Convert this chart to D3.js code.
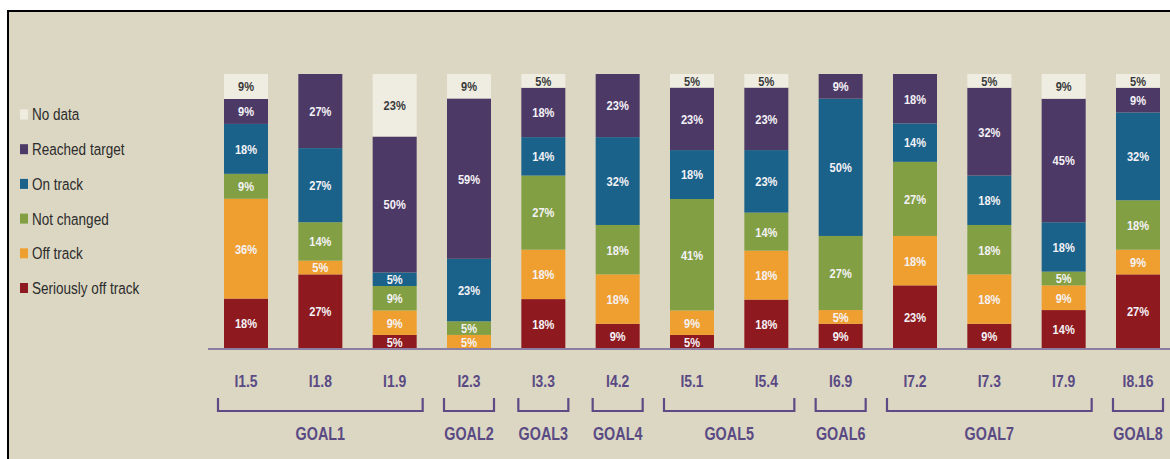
<!DOCTYPE html>
<html>
<head>
<meta charset="utf-8">
<script src="https://cdn.jsdelivr.net/npm/d3@7"></script>
<style>
  html, body { margin: 0; padding: 0; background: #ffffff; }
  svg { display: block; }
</style>
</head>
<body>
<svg id="chart" width="1170" height="459"></svg>
<script>
// ---- data ----
const categories = ["I1.5","I1.8","I1.9","I2.3","I3.3","I4.2","I5.1","I5.4","I6.9","I7.2","I7.3","I7.9","I8.16"];
const seriesNames = ["Seriously off track","Off track","Not changed","On track","Reached target","No data"];
const seriouslyOffTrack = [18,27, 5, 0,18, 9, 5,18, 9,23, 9,14,27];
const offTrack          = [36, 5, 9, 5,18,18, 9,18, 5,18,18, 9, 9];
const notChanged        = [ 9,14, 9, 5,27,18,41,14,27,27,18, 5,18];
const onTrack           = [18,27, 5,23,14,32,18,23,50,14,18,18,32];
const reachedTarget     = [ 9,27,50,59,18,23,23,23, 9,18,32,45, 9];
const noData            = [ 9, 0,23, 9, 5, 0, 5, 5, 0, 0, 5, 9, 5];
const goalNames  = ["GOAL1","GOAL2","GOAL3","GOAL4","GOAL5","GOAL6","GOAL7","GOAL8"];
const goalFirst  = ["I1.5","I2.3","I3.3","I4.2","I5.1","I6.9","I7.2","I8.16"];
const goalLast   = ["I1.9","I2.3","I3.3","I4.2","I5.4","I6.9","I7.9","I8.16"];
const legendOrder = ["No data","Reached target","On track","Not changed","Off track","Seriously off track"];

// ---- styles ----
const colors = {
  "Seriously off track": "#8E191E",
  "Off track": "#EF9F2F",
  "Not changed": "#82A043",
  "On track": "#1A628A",
  "Reached target": "#4D3966",
  "No data": "#EFEDE2"
};
const bg = "#DCD7C3";
const purpleText = "#5A4A84";
const fontFam = "'Liberation Sans', Arial, sans-serif";
const squeeze = 0.82;

const svg = d3.select("#chart");
// frame
svg.append("rect").attr("x", 0).attr("y", 0).attr("width", 1170).attr("height", 459).attr("fill", "#ffffff");
svg.append("rect").attr("x", 8).attr("y", 11).attr("width", 1162).attr("height", 448).attr("fill", bg);
svg.append("line").attr("x1", 7).attr("x2", 1170).attr("y1", 11).attr("y2", 11)
  .attr("stroke", "#000").attr("stroke-width", 2);
svg.append("line").attr("x1", 8).attr("x2", 8).attr("y1", 10).attr("y2", 459)
  .attr("stroke", "#000").attr("stroke-width", 2);

// helper: condensed text placed at (px, py)
function narrowText(parent, px, py, str, opts) {
  const t = parent.append("g").attr("transform", `translate(${px},${py}) scale(${squeeze},1)`)
    .append("text")
    .attr("x", 0).attr("y", 0).attr("dy", "0.36em")
    .attr("text-anchor", opts.anchor || "middle")
    .attr("font-family", fontFam)
    .attr("font-weight", opts.weight || "normal")
    .attr("font-size", opts.size)
    .attr("fill", opts.fill)
    .text(str);
  return t;
}

// table
const rows = categories.map((c, i) => ({
  cat: c,
  "Seriously off track": seriouslyOffTrack[i],
  "Off track": offTrack[i],
  "Not changed": notChanged[i],
  "On track": onTrack[i],
  "Reached target": reachedTarget[i],
  "No data": noData[i]
}));

const x = d3.scaleBand().domain(categories).range([224, 1160]).paddingInner(0.408).paddingOuter(0);
const y = d3.scaleLinear().domain([0, 1]).range([348.5, 74]);

const stack = d3.stack().keys(seriesNames).offset(d3.stackOffsetExpand);
const layers = stack(rows);

const g = svg.append("g");
layers.forEach(layer => {
  const key = layer.key;
  const lg = g.append("g");
  layer.forEach(d => {
    const raw = d.data[key];
    if (!raw) return;
    const x0 = x(d.data.cat);
    const yTop = y(d[1]), yBot = y(d[0]);
    lg.append("rect")
      .attr("x", x0).attr("width", x.bandwidth())
      .attr("y", yTop).attr("height", yBot - yTop)
      .attr("fill", colors[key]);
    narrowText(lg, x0 + x.bandwidth() / 2, (yTop + yBot) / 2, raw + "%", {
      size: 13.5, weight: "bold",
      fill: key === "No data" ? "#3a3a3a" : "#F4F2F6"
    });
  });
});

// baseline
svg.append("line").attr("x1", 208).attr("x2", 1170).attr("y1", 349).attr("y2", 349)
  .attr("stroke", "#8A7EA2").attr("stroke-width", 2);

// category axis (labels only)
const axis = d3.axisBottom(x).tickSize(0).tickPadding(0);
const ax = svg.append("g").attr("transform", "translate(0,380.5)").call(axis);
ax.select(".domain").remove();
ax.selectAll("text")
  .attr("y", 0)
  .attr("dy", "0.36em")
  .attr("transform", `scale(${squeeze},1)`)
  .attr("font-family", fontFam)
  .attr("font-weight", "bold")
  .attr("font-size", 17)
  .attr("fill", purpleText);

// goal brackets
goalNames.forEach((name, i) => {
  const multi = goalFirst[i] !== goalLast[i];
  const pad = multi ? 6 : 3;
  const xl = x(goalFirst[i]) - pad;
  const xr = x(goalLast[i]) + x.bandwidth() + pad;
  svg.append("path")
    .attr("d", `M${xl},398 V411 H${xr} V398`)
    .attr("fill", "none")
    .attr("stroke", "#5E4B86")
    .attr("stroke-width", 2.2);
  narrowText(svg, (xl + xr) / 2, 434, name, {
    size: 17.5, weight: "bold", fill: purpleText
  });
});

// legend
const legend = svg.append("g");
legendOrder.forEach((name, i) => {
  const cy = 114.5 + i * 34.7;
  legend.append("rect").attr("x", 20).attr("y", cy - 5).attr("width", 8).attr("height", 10)
    .attr("fill", colors[name]);
  narrowText(legend, 32, cy, name, { size: 16.5, anchor: "start", fill: "#2b2b2b" });
});
</script>
</body>
</html>
